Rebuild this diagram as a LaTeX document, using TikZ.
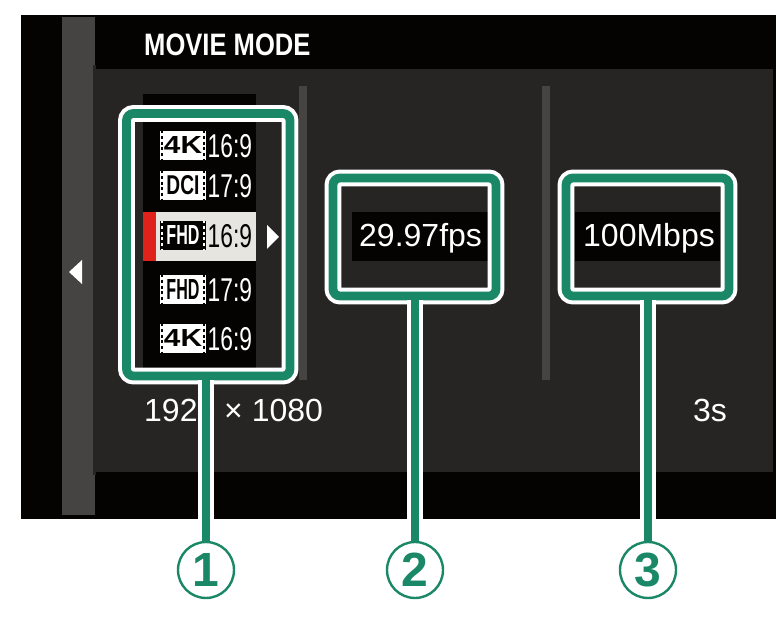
\documentclass[tikz,border=0pt]{standalone}
\usepackage{fontspec}
\setmainfont{Liberation Sans}
\newfontfamily\narrowfont[FakeStretch=0.69]{Liberation Sans}
\newfontfamily\titlefont[FakeStretch=0.825]{Liberation Sans Bold}
\definecolor{screenblack}{HTML}{050302}
\definecolor{panelgrey}{HTML}{272524}
\definecolor{bargrey}{HTML}{454443}
\definecolor{rowlight}{HTML}{E6E5E0}
\definecolor{rowred}{HTML}{DF231C}
\definecolor{callgreen}{HTML}{1A8766}
\tikzset{
  screentext/.style={text=white,font=\fontsize{32}{32}\selectfont,anchor=base west,inner sep=0pt},
  ratiotext/.style={text=#1,font=\narrowfont\fontsize{33}{33}\selectfont,anchor=base west,inner sep=0pt},
  tagbox/.style={fill=#1,minimum width=46pt,minimum height=29pt,inner sep=0pt},
  perforation/.style={line width=2pt,dash pattern=on 2.8pt off 2.8pt},
  callbox/.style={draw=white,double=callgreen,double distance=8.8pt,line width=4pt,rounded corners=7pt,
    inner sep=0pt,outer sep=0pt},
  stemhalo/.style={draw=white,line width=16.4pt,shorten <=4pt},
  stemline/.style={draw=callgreen,line width=8.4pt},
  callnum/.style={circle,draw=callgreen,line width=2.4pt,fill=white,minimum size=56pt,inner sep=0pt,
    text=callgreen,font=\bfseries\fontsize{48}{48}\selectfont}
}
\begin{document}
\begin{tikzpicture}[x=1pt,y=-1pt]
\useasboundingbox (0,0) rectangle (780,617);
% camera screen
\fill[screenblack] (20.5,15.5) rectangle (776,519);
\fill[panelgrey] (95,69) rectangle (773,472);
\fill[bargrey] (62,17) rectangle (95,515);
\fill[panelgrey] (93,65) rectangle (96,475);
\fill[bargrey] (299,86) rectangle (307,380);
\fill[bargrey] (542,86) rectangle (550,380);
\fill[screenblack] (143,94) rectangle (256,368);
\fill[screenblack] (352,212) rectangle (488,261);
\fill[screenblack] (575,212) rectangle (720,261);
\fill[rowlight] (143,212) rectangle (256,261);
\fill[rowred] (143,212) rectangle (156,261);
\fill[white] (82,260) -- (82,284) -- (69,272) -- cycle;
\fill[white] (267,225) -- (267,249) -- (279,237) -- cycle;
\node[anchor=base west,inner sep=0pt,text=white] (title) at (144,56)
  {\titlefont\fontsize{31}{32}\selectfont MOVIE MODE};
% format rows
\foreach \rowid/\tagtext/\tagw/\tagh/\ratio/\base/\fg/\bg in {
  a/4K/38/17/16:9/158/white/screenblack,
  b/DCI/33/19/17:9/198/white/screenblack,
  c/FHD/33/19/16:9/248/screenblack/white,
  d/FHD/33/20/17:9/302/white/screenblack,
  e/4K/38/17/16:9/351/white/screenblack}
{
  \node[ratiotext=\fg] (ratio\rowid) at (207.5,\base) {\ratio};
  \node[tagbox=\fg,anchor=south,text=\bg] (tag\rowid) at (183,\base+2)
    {\resizebox{\tagw pt}{\tagh pt}{\bfseries \tagtext}};
  \draw[perforation,\bg] ([xshift=2pt]tag\rowid.north west) -- ([xshift=2pt]tag\rowid.south west);
  \draw[perforation,\bg] ([xshift=-2pt]tag\rowid.north east) -- ([xshift=-2pt]tag\rowid.south east);
}
% values
\node[screentext] (size) at (144,422) {1920 × 1080};
\node[screentext] (time) at (693,422) {3s};
\node[screentext] (fps) at (359,247) {29.97fps};
\node[screentext] (rate) at (583,247) {100Mbps};
% callouts
\node[callbox,minimum width=163.5pt,minimum height=262.5pt] (box1) at (208.25,244.75) {};
\node[callbox,minimum width=163pt,minimum height=118pt] (box2) at (414.5,237) {};
\node[callbox,minimum width=163pt,minimum height=118pt] (box3) at (647.5,237) {};
\node[callnum] (num1) at (206,570) {1};
\node[callnum] (num2) at (415,570) {2};
\node[callnum] (num3) at (648,570) {3};
\foreach \callid in {1,2,3}
{
  \draw[stemhalo] (box\callid.south -| num\callid.north) -- (num\callid.north);
  \draw[stemline] (box\callid.south -| num\callid.north) -- (num\callid.north);
}
\end{tikzpicture}
\end{document}
